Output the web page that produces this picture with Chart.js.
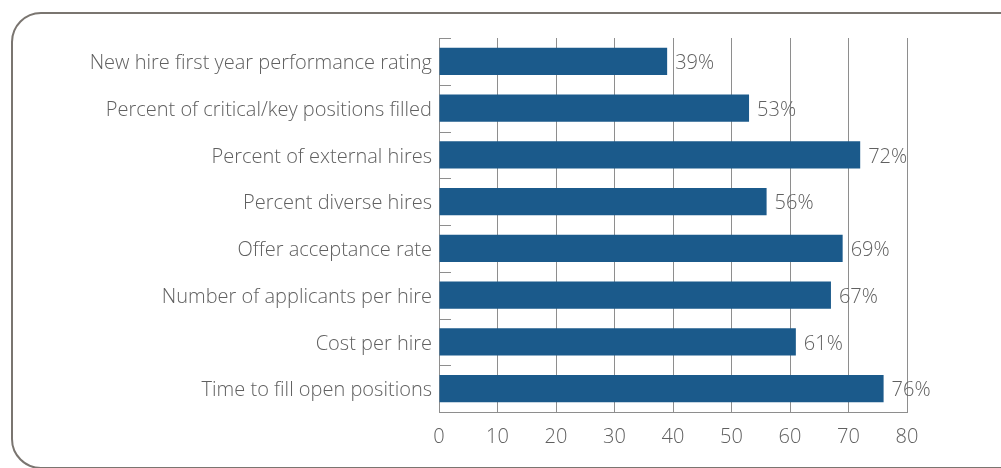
<!DOCTYPE html>
<html>
<head>
<meta charset="utf-8">
<script src="https://cdn.jsdelivr.net/npm/chart.js@4.4.1/dist/chart.umd.min.js"></script>
<style>
  html, body { margin: 0; padding: 0; background: #fff; overflow: hidden; }
  #wrap { position: relative; width: 1001px; height: 468px; }
  #frame {
    position: absolute; left: 11px; top: 12px; width: 1020px; height: 453px;
    border: 2px solid #7a7570; border-radius: 30px;
  }
  #chart { position: absolute; left: 0; top: 0; }
</style>
</head>
<body>
<div id="wrap">
  <div id="frame"></div>
  <canvas id="chart" width="1001" height="468"></canvas>
</div>
<script>
// ===================== DATA =====================
const categories = [
  'New hire first year performance rating',
  'Percent of critical/key positions filled',
  'Percent of external hires',
  'Percent diverse hires',
  'Offer acceptance rate',
  'Number of applicants per hire',
  'Cost per hire',
  'Time to fill open positions'
];
const values = [39, 53, 72, 56, 69, 67, 61, 76];
const xTicks = [0, 10, 20, 30, 40, 50, 60, 70, 80];

const textColor = '#606060';
const gridColor = '#8e8e8e';
const fontFamily = '"Open Sans", Lato, sans-serif';

// value labels "39%" at the end of each bar
const valueLabels = {
  id: 'valueLabels',
  afterDatasetsDraw(chart) {
    const ctx = chart.ctx;
    const meta = chart.getDatasetMeta(0);
    ctx.save();
    ctx.font = '300 20px ' + fontFamily;
    ctx.fillStyle = textColor;
    ctx.textAlign = 'left';
    ctx.textBaseline = 'middle';
    meta.data.forEach((bar, i) => {
      ctx.fillText(values[i] + '%', bar.x + 8, bar.y + 2);
    });
    ctx.restore();
  }
};

// small inward ticks on the y axis between categories
const innerTicks = {
  id: 'innerTicks',
  afterDraw(chart) {
    const ctx = chart.ctx;
    const y = chart.scales.y;
    const step = (y.bottom - y.top) / categories.length;
    ctx.save();
    ctx.strokeStyle = gridColor;
    ctx.lineWidth = 1;
    ctx.beginPath();
    for (let i = 0; i < categories.length; i++) {
      const py = Math.round(y.top + i * step) + 0.5;
      ctx.moveTo(y.right, py);
      ctx.lineTo(y.right + 12, py);
    }
    ctx.stroke();
    ctx.restore();
  }
};

new Chart(document.getElementById('chart'), {
  type: 'bar',
  data: {
    labels: categories,
    datasets: [{
      data: values,
      backgroundColor: '#1b5a8b',
      borderWidth: 0,
      categoryPercentage: 1,
      barPercentage: 0.58
    }]
  },
  options: {
    indexAxis: 'y',
    responsive: false,
    animation: false,
    layout: { padding: { top: 38, right: 94, bottom: 0, left: 0 } },
    plugins: { legend: { display: false }, tooltip: { enabled: false } },
    scales: {
      x: {
        min: 0,
        max: 80,
        afterBuildTicks(scale) { scale.ticks = xTicks.map(v => ({ value: v })); },
        afterFit(scale) { scale.height = 56; },
        grid: { color: gridColor, lineWidth: 1, drawTicks: false },
        border: { color: gridColor, width: 1 },
        ticks: { color: textColor, padding: 13, font: { family: fontFamily, size: 20, weight: 300 } }
      },
      y: {
        afterFit(scale) { scale.width = 439; },
        grid: { display: false, drawTicks: false },
        border: { color: gridColor, width: 1 },
        ticks: { color: textColor, padding: 7, labelOffset: 2, font: { family: fontFamily, size: 20, weight: 300 } }
      }
    }
  },
  plugins: [valueLabels, innerTicks]
});
</script>
</body>
</html>
